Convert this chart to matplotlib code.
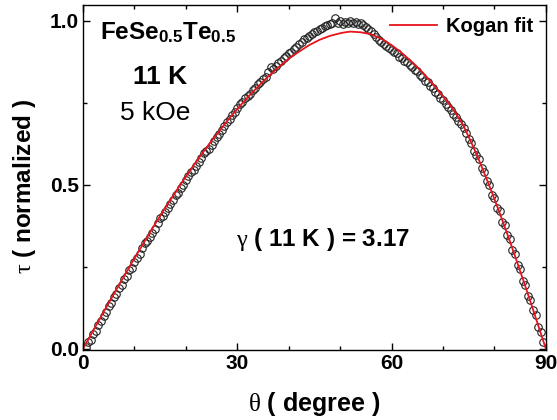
import numpy as np
import matplotlib
matplotlib.use("Agg")
import matplotlib.pyplot as plt
from matplotlib.ticker import MultipleLocator

plt.rcParams['font.family'] = ['Liberation Sans', 'DejaVu Sans']
plt.rcParams['mathtext.fontset'] = 'custom'
plt.rcParams['mathtext.bf'] = 'Liberation Sans:bold'
plt.rcParams['mathtext.rm'] = 'Liberation Serif'
plt.rcParams['mathtext.it'] = 'Liberation Serif:italic'

# measured torque (normalized), theta = 0.5 ... 89.5 deg in 0.5 deg steps
theta_start, theta_step = 0.5, 0.5
tau_data = [
    0.006, 0.020, 0.028, 0.045, 0.055, 0.074, 0.084, 0.101, 0.112, 0.130,
    0.140, 0.157, 0.168, 0.186, 0.194, 0.212, 0.222, 0.240, 0.248, 0.265,
    0.278, 0.288, 0.308, 0.322, 0.330, 0.340, 0.352, 0.366, 0.384, 0.398,
    0.404, 0.416, 0.428, 0.442, 0.455, 0.468, 0.476, 0.489, 0.500, 0.515,
    0.528, 0.540, 0.546, 0.557, 0.570, 0.583, 0.596, 0.604, 0.610, 0.622,
    0.633, 0.645, 0.656, 0.668, 0.680, 0.690, 0.700, 0.714, 0.722, 0.733,
    0.745, 0.752, 0.765, 0.772, 0.778, 0.790, 0.796, 0.806, 0.812, 0.824,
    0.830, 0.845, 0.858, 0.852, 0.862, 0.870, 0.878, 0.886, 0.893, 0.902,
    0.906, 0.915, 0.920, 0.930, 0.934, 0.944, 0.948, 0.955, 0.960, 0.966,
    0.970, 0.976, 0.978, 0.984, 0.986, 0.990, 0.992, 1.008, 0.994, 0.998,
    0.990, 0.996, 0.992, 0.998, 0.994, 0.996, 0.990, 0.992, 0.986, 0.982,
    0.976, 0.970, 0.960, 0.952, 0.940, 0.936, 0.930, 0.924, 0.916, 0.912,
    0.904, 0.902, 0.890, 0.886, 0.878, 0.874, 0.864, 0.860, 0.850, 0.846,
    0.834, 0.830, 0.816, 0.812, 0.800, 0.796, 0.782, 0.776, 0.766, 0.758,
    0.746, 0.738, 0.728, 0.716, 0.706, 0.694, 0.684, 0.672, 0.658, 0.640,
    0.626, 0.604, 0.590, 0.578, 0.552, 0.540, 0.512, 0.500, 0.470, 0.460,
    0.430, 0.420, 0.388, 0.378, 0.346, 0.334, 0.300, 0.290, 0.256, 0.242,
    0.208, 0.196, 0.162, 0.150, 0.118, 0.102, 0.068, 0.052, 0.020,
]
theta_data = theta_start + theta_step * np.arange(len(tau_data))

# Kogan fit curve, theta = 0 ... 90 deg in 1 deg steps
tau_fit = [
    0.000, 0.028, 0.056, 0.084, 0.112, 0.140, 0.167, 0.195, 0.222, 0.249,
    0.276, 0.302, 0.328, 0.354, 0.380, 0.405, 0.430, 0.454, 0.478, 0.502,
    0.525, 0.548, 0.570, 0.592, 0.613, 0.634, 0.654, 0.674, 0.694, 0.713,
    0.731, 0.749, 0.766, 0.783, 0.799, 0.815, 0.830, 0.844, 0.858, 0.871,
    0.884, 0.895, 0.906, 0.916, 0.926, 0.934, 0.942, 0.948, 0.954, 0.958,
    0.962, 0.965, 0.967, 0.966, 0.965, 0.962, 0.959, 0.952, 0.945, 0.936,
    0.926, 0.914, 0.902, 0.888, 0.874, 0.859, 0.843, 0.826, 0.808, 0.789,
    0.770, 0.750, 0.730, 0.705, 0.680, 0.646, 0.612, 0.575, 0.537, 0.497,
    0.457, 0.415, 0.372, 0.328, 0.283, 0.237, 0.191, 0.144, 0.096, 0.048,
    0.000,
]
theta_fit = np.arange(len(tau_fit)) * 1.0

x_ticks = [0, 30, 60, 90]
y_ticks = [0.0, 0.5, 1.0]

fig = plt.figure(figsize=(5.57, 4.2), dpi=100)
ax = fig.add_axes([0.149, 0.167, 0.831, 0.821])

ax.plot(theta_data, tau_data, linestyle='none', marker='o', markersize=5.4,
        markerfacecolor='none', markeredgecolor='#222222', markeredgewidth=0.8)
ax.plot(theta_fit, tau_fit, color='#e8131b', linewidth=1.3, label='Kogan fit')

ax.set_xlim(0, 90)
ax.set_ylim(-0.003, 1.048)
ax.xaxis.set_minor_locator(MultipleLocator(10))
ax.yaxis.set_minor_locator(MultipleLocator(0.25))
ax.set_xticks(x_ticks)
ax.set_xticklabels([str(v) for v in x_ticks], fontweight='bold', fontsize=15)
ax.set_yticks(y_ticks)
ax.set_yticklabels([f'{v:.1f}' for v in y_ticks], fontweight='bold', fontsize=15)
ax.tick_params(which='both', direction='in', top=True, right=True, width=1.0)
ax.tick_params(which='major', length=5, pad=3)
ax.tick_params(which='minor', length=3)
for s in ax.spines.values():
    s.set_linewidth(1.0)

fig.text(314 / 557, 1 - 404 / 420, r'$\mathrm{\theta}$ ( degree )', fontsize=18,
         fontweight='bold', ha='center', va='center')
fig.text(25 / 557, 1 - 187 / 420, r'$\mathrm{\tau}$ ( normalized )', fontsize=17.5,
         fontweight='bold', ha='center', va='center', rotation=90)

ax.text(16.5, 0.963, r'$\mathbf{FeSe_{0.5}Te_{0.5}}$', fontsize=17.5,
        ha='center', va='center')
ax.text(15.0, 0.828, '11 K', fontsize=19, fontweight='bold', ha='center', va='center')
ax.text(14.0, 0.718, '5 kOe', fontsize=19, ha='center', va='center')
ax.text(46.6, 0.332, r'$\mathrm{\gamma}$ ( 11 K ) = 3.17', fontsize=17.5,
        fontweight='bold', ha='center', va='center')

leg = ax.legend(loc='upper right', frameon=False, fontsize=14.5,
                handlelength=2.3, borderaxespad=0.2, handletextpad=0.45,
                bbox_to_anchor=(0.998, 1.0))
for t in leg.get_texts():
    t.set_fontweight('bold')

fig.savefig('out.png', dpi=100)
